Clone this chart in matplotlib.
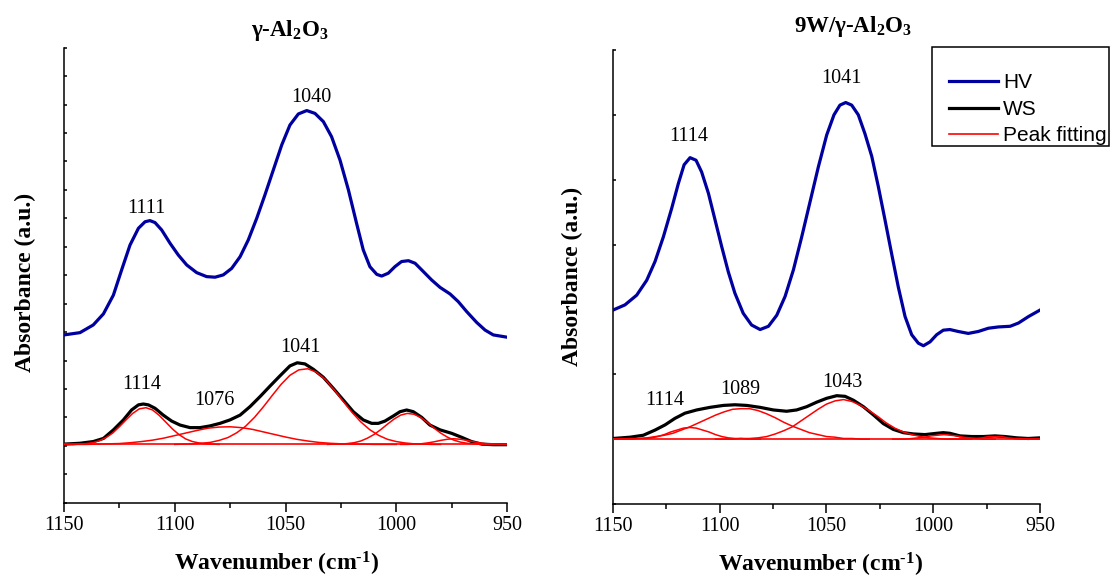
import matplotlib
matplotlib.use("Agg")
import matplotlib.pyplot as plt
from matplotlib.lines import Line2D
from matplotlib.patches import Rectangle

plt.rcParams["font.family"] = "Liberation Serif"
plt.rcParams["mathtext.fontset"] = "custom"
plt.rcParams["mathtext.rm"] = "Liberation Serif:bold"
plt.rcParams["mathtext.it"] = "Liberation Serif:italic:bold"
plt.rcParams["mathtext.bf"] = "Liberation Serif:bold"

# ---------------- gamma-Al2O3 spectra ----------------
left_hv_wn = [1150, 1142.8, 1136.8, 1132.2, 1127.7, 1124.0, 1120.2, 1116.4, 1113.4, 1111.2, 1108.9, 1105.9,
              1102.1, 1098.4, 1094.6, 1090.1, 1085.6, 1081.8, 1078.1, 1074.3, 1070.5, 1066.8, 1063.0, 1059.3,
              1055.5, 1051.7, 1048.0, 1044.2, 1040.4, 1036.7, 1032.9, 1029.2, 1025.4, 1021.6, 1017.9, 1014.9,
              1011.9, 1008.8, 1006.6, 1003.6, 1000.6, 997.6, 994.5, 991.5, 987.8, 984.0, 980.2, 975.7, 972.0,
              968.2, 963.7, 959.9, 956.2, 950]
left_hv = [5.90, 5.98, 6.25, 6.64, 7.30, 8.18, 9.06, 9.65, 9.88, 9.92, 9.85, 9.59, 9.12, 8.71, 8.36, 8.09,
           7.95, 7.93, 8.01, 8.24, 8.65, 9.24, 10.00, 10.82, 11.70, 12.58, 13.28, 13.67, 13.79, 13.69, 13.40,
           12.87, 12.05, 11.00, 9.82, 8.89, 8.30, 8.03, 7.97, 8.07, 8.30, 8.48, 8.51, 8.42, 8.13, 7.83, 7.57,
           7.34, 7.07, 6.72, 6.34, 6.07, 5.90, 5.82]

left_ws_wn = [1150, 1142.8, 1136.8, 1132.2, 1127.7, 1123.2, 1119.5, 1116.4, 1114.2, 1111.9, 1108.9, 1105.2,
              1101.4, 1097.6, 1093.1, 1088.6, 1084.1, 1079.6, 1075.1, 1070.5, 1066.0, 1061.5, 1057.0, 1052.5,
              1048.0, 1044.7, 1041.2, 1037.4, 1032.9, 1028.4, 1023.9, 1019.4, 1014.9, 1011.1, 1008.1, 1005.1,
              1001.3, 998.3, 995.3, 992.3, 988.5, 984.8, 980.2, 975.0, 970.5, 966.0, 961.4, 956.2, 950]
left_ws = [2.06, 2.09, 2.15, 2.26, 2.56, 2.91, 3.26, 3.44, 3.47, 3.44, 3.32, 3.08, 2.87, 2.73, 2.64, 2.64,
           2.70, 2.79, 2.91, 3.08, 3.38, 3.73, 4.10, 4.46, 4.81, 4.92, 4.88, 4.69, 4.41, 4.02, 3.61, 3.20,
           2.91, 2.79, 2.79, 2.87, 3.05, 3.20, 3.26, 3.20, 3.00, 2.73, 2.56, 2.44, 2.30, 2.15, 2.06, 2.04, 2.04]

left_base = 2.05
left_fit_wn = [
    [1146, 1143, 1140, 1137, 1134, 1131, 1128, 1125, 1122, 1119, 1116, 1113, 1110, 1107, 1104, 1101, 1098,
     1095, 1092, 1089, 1086, 1083, 1080],
    [1150, 1145, 1140, 1135, 1130, 1125, 1120, 1115, 1110, 1105, 1100, 1095, 1090, 1085, 1080, 1075, 1070,
     1065, 1060, 1055, 1050, 1045, 1040, 1035, 1030, 1025, 1020, 1015, 1010, 1005, 1000],
    [1100, 1096, 1092, 1088, 1084, 1080, 1076, 1072, 1068, 1064, 1060, 1056, 1052, 1048, 1044, 1040, 1036,
     1032, 1028, 1024, 1020, 1016, 1012, 1008, 1004, 1000, 996, 992, 988, 984, 980],
    [1031, 1028, 1025, 1022, 1019, 1016, 1013, 1010, 1007, 1004, 1001, 998, 995, 992, 989, 986, 983, 980,
     977, 974, 971, 968, 965, 962, 959, 956],
    [998, 995, 992, 989, 986, 983, 980, 977, 974, 971, 968, 965, 962, 959, 956, 953, 950],
]
left_fit = [
    [2.05, 2.06, 2.08, 2.11, 2.18, 2.29, 2.45, 2.67, 2.91, 3.14, 3.30, 3.34, 3.26, 3.07, 2.83, 2.59, 2.39,
     2.24, 2.15, 2.10, 2.07, 2.06, 2.05],
    [2.05, 2.05, 2.05, 2.06, 2.07, 2.08, 2.11, 2.15, 2.20, 2.27, 2.36, 2.45, 2.54, 2.62, 2.66, 2.67, 2.64,
     2.58, 2.49, 2.40, 2.31, 2.23, 2.17, 2.12, 2.09, 2.07, 2.06, 2.06, 2.05, 2.05, 2.05],
    [2.05, 2.06, 2.07, 2.09, 2.12, 2.19, 2.29, 2.46, 2.69, 3.00, 3.37, 3.77, 4.16, 4.48, 4.67, 4.71, 4.59,
     4.33, 3.97, 3.57, 3.18, 2.84, 2.57, 2.37, 2.23, 2.15, 2.10, 2.07, 2.06, 2.05, 2.05],
    [2.05, 2.06, 2.06, 2.08, 2.11, 2.17, 2.27, 2.40, 2.57, 2.76, 2.94, 3.08, 3.14, 3.11, 3.00, 2.83, 2.63,
     2.45, 2.31, 2.20, 2.13, 2.09, 2.07, 2.06, 2.05, 2.05],
    [2.05, 2.05, 2.06, 2.07, 2.10, 2.14, 2.19, 2.23, 2.25, 2.23, 2.19, 2.14, 2.10, 2.07, 2.06, 2.05, 2.05],
]

# ---------------- 9W/gamma-Al2O3 spectra ----------------
right_hv_wn = [1150, 1144.4, 1138.9, 1134.2, 1130.3, 1126.4, 1122.5, 1119.4, 1116.7, 1113.9, 1111.1, 1108.5,
               1105.3, 1102.2, 1099.1, 1096.0, 1092.9, 1089.0, 1085.1, 1081.1, 1077.2, 1073.3, 1069.4, 1065.5,
               1061.6, 1057.7, 1053.8, 1049.9, 1046.5, 1043.7, 1041.0, 1038.2, 1035.1, 1032.0, 1028.8, 1025.7,
               1022.6, 1019.5, 1016.4, 1013.2, 1010.1, 1007.0, 1004.6, 1001.5, 998.4, 995.3, 992.2, 988.3,
               983.6, 978.9, 974.2, 969.5, 964.0, 960.1, 955.4, 950]
right_hv = [2.99, 3.07, 3.22, 3.45, 3.74, 4.12, 4.56, 4.94, 5.23, 5.34, 5.30, 5.12, 4.79, 4.38, 3.97, 3.58,
            3.25, 2.94, 2.76, 2.69, 2.74, 2.91, 3.20, 3.61, 4.12, 4.66, 5.20, 5.69, 6.00, 6.15, 6.19, 6.15,
            6.00, 5.71, 5.36, 4.89, 4.38, 3.86, 3.35, 2.89, 2.61, 2.48, 2.44, 2.50, 2.61, 2.68, 2.69, 2.66,
            2.63, 2.66, 2.71, 2.73, 2.74, 2.79, 2.89, 2.99]

right_ws_wn = [1150, 1142.0, 1135.8, 1130.3, 1125.6, 1121.0, 1116.3, 1110.8, 1104.6, 1098.3, 1092.9, 1087.4,
               1081.1, 1074.9, 1068.7, 1064.0, 1059.3, 1054.6, 1049.9, 1045.2, 1041.3, 1037.4, 1032.7, 1027.9,
               1023.4, 1018.7, 1014.0, 1009.3, 1003.9, 998.4, 995.3, 992.2, 987.5, 982.0, 976.5, 971.1, 966.4,
               960.9, 955.5, 950]
right_ws = [1.01, 1.03, 1.06, 1.14, 1.22, 1.32, 1.40, 1.45, 1.49, 1.52, 1.53, 1.52, 1.49, 1.45, 1.43, 1.45,
            1.50, 1.57, 1.63, 1.67, 1.66, 1.60, 1.50, 1.37, 1.24, 1.15, 1.10, 1.08, 1.07, 1.09, 1.10, 1.09,
            1.05, 1.04, 1.04, 1.05, 1.04, 1.02, 1.01, 1.02]

right_base = 1.00
right_fit_wn = [
    [1147, 1144, 1141, 1138, 1135, 1132, 1129, 1126, 1123, 1120, 1117, 1114, 1111, 1108, 1105, 1102, 1099,
     1096, 1093, 1090, 1087, 1084, 1081],
    [1150, 1146, 1142, 1138, 1134, 1130, 1126, 1122, 1118, 1114, 1110, 1106, 1102, 1098, 1094, 1090, 1086,
     1082, 1078, 1074, 1070, 1066, 1062, 1058, 1054, 1050, 1046, 1042, 1038, 1034, 1030],
    [1102, 1098, 1094, 1090, 1086, 1082, 1078, 1074, 1070, 1066, 1062, 1058, 1054, 1050, 1046, 1042, 1038,
     1034, 1030, 1026, 1022, 1018, 1014, 1010, 1006, 1002, 998, 994, 990, 986, 982],
    [1019, 1016, 1013, 1010, 1007, 1004, 1001, 998, 995, 992, 989, 986, 983, 980, 977, 974, 971],
    [992, 989, 986, 983, 980, 977, 974, 971, 968, 965, 962, 959, 956, 953, 950],
]
right_fit = [
    [1.00, 1.00, 1.00, 1.01, 1.01, 1.02, 1.04, 1.07, 1.11, 1.14, 1.17, 1.18, 1.17, 1.14, 1.11, 1.07, 1.04,
     1.02, 1.01, 1.01, 1.00, 1.00, 1.00],
    [1.00, 1.00, 1.01, 1.01, 1.02, 1.04, 1.06, 1.09, 1.14, 1.19, 1.25, 1.31, 1.37, 1.42, 1.46, 1.47, 1.47,
     1.44, 1.39, 1.33, 1.26, 1.20, 1.15, 1.10, 1.07, 1.04, 1.03, 1.01, 1.01, 1.00, 1.00],
    [1.00, 1.00, 1.00, 1.01, 1.01, 1.02, 1.04, 1.08, 1.13, 1.19, 1.28, 1.37, 1.46, 1.54, 1.59, 1.61, 1.58,
     1.52, 1.44, 1.35, 1.25, 1.17, 1.11, 1.07, 1.04, 1.02, 1.01, 1.00, 1.00, 1.00, 1.00],
    [1.00, 1.00, 1.00, 1.01, 1.02, 1.03, 1.05, 1.06, 1.07, 1.06, 1.05, 1.03, 1.02, 1.01, 1.00, 1.00, 1.00],
    [1.00, 1.00, 1.00, 1.01, 1.01, 1.02, 1.04, 1.04, 1.04, 1.02, 1.01, 1.01, 1.00, 1.00, 1.00],
]

# peak labels: (text, wavenumber, absorbance of the label baseline)
left_peaks = [("1111", 1112.7, 10.19), ("1040", 1038.2, 14.09), ("1114", 1114.7, 4.01),
              ("1076", 1082.1, 3.42), ("1041", 1043.1, 5.30)]
right_peaks = [("1114", 1114.7, 5.60), ("1041", 1043.0, 6.49), ("1114", 1125.6, 1.52),
               ("1089", 1090.2, 1.70), ("1043", 1042.4, 1.80)]

xticks = [1150, 1100, 1050, 1000, 950]
xminor = [1125, 1075, 1025, 975]
titles = ["γ-Al$_2$O$_3$", "9W/γ-Al$_2$O$_3$"]
xlabel = r"Wavenumber (cm$^{\text{-}1}$)"
ylabel = "Absorbance (a.u.)"
series_names = ["HV", "WS", "Peak fitting"]

BLUE = "#0000a0"
RED = "#ff0000"
W, H = 1110, 580
fig = plt.figure(figsize=(W / 100, H / 100), dpi=100)
axL = fig.add_axes([64 / W, 1 - 502.7 / H, 443 / W, 455 / H])
axR = fig.add_axes([613 / W, 1 - 504 / H, 427 / W, 454 / H])

panels = [
    (axL, left_hv_wn, left_hv, left_ws_wn, left_ws, left_fit_wn, left_fit, left_base, 16, left_peaks),
    (axR, right_hv_wn, right_hv, right_ws_wn, right_ws, right_fit_wn, right_fit, right_base, 7, right_peaks),
]
for ax, hvw, hv, wsw, ws, fw, fv, base, top, peaks in panels:
    ax.plot(hvw, hv, color=BLUE, lw=2.3, zorder=3, solid_joinstyle="round")
    ax.plot(wsw, ws, color="black", lw=2.3, zorder=3, solid_joinstyle="round")
    ax.plot([1150, 950], [base, base], color=RED, lw=1.2, zorder=4)
    for w, v in zip(fw, fv):
        ax.plot(w, v, color=RED, lw=1.1, zorder=4)
    for t, x, y in peaks:
        ax.text(x, y, t, ha="center", va="baseline", fontsize=14.5)
    ax.set_xlim(1150, 950)
    ax.set_ylim(0, top)
    ax.spines[["top", "right"]].set_visible(False)
    for s in ("left", "bottom"):
        ax.spines[s].set_linewidth(1.1)
    ax.set_xticks(xticks)
    ax.set_xticks(xminor, minor=True)
    ax.set_yticks(range(0, top + 1))
    ax.set_yticklabels([])
    ax.tick_params(axis="x", which="major", direction="out", length=6.5, width=1.1,
                   labelsize=14.5, pad=3)
    ax.tick_params(axis="x", which="minor", direction="out", length=3.5, width=1.1)
    ax.tick_params(axis="y", direction="in", length=2, width=1.1)

fig.text(289.5 / W, 1 - 36 / H, titles[0], ha="center", va="baseline", fontsize=16.5, fontweight="bold")
fig.text(852.5 / W, 1 - 32 / H, titles[1], ha="center", va="baseline", fontsize=16.5, fontweight="bold")
fig.text(277 / W, 1 - 571 / H, xlabel, ha="center", va="baseline", fontsize=17, fontweight="bold")
fig.text(821 / W, 1 - 572 / H, xlabel, ha="center", va="baseline", fontsize=17, fontweight="bold")
fig.text(25 / W, 1 - 282 / H, ylabel, ha="center", va="center", rotation=90, fontsize=17, fontweight="bold")
fig.text(572 / W, 1 - 276 / H, ylabel, ha="center", va="center", rotation=90, fontsize=17, fontweight="bold")

handles = [Line2D([], [], color=BLUE, lw=2.3), Line2D([], [], color="black", lw=2.3),
           Line2D([], [], color=RED, lw=1.2)]
fig.legend(handles, series_names, loc="upper left",
           bbox_to_anchor=(949 / W, 1 - 73.5 / H), borderaxespad=0, borderpad=0,
           frameon=False, handlelength=2.36, handletextpad=0.24, labelspacing=0.36,
           prop={"family": "Liberation Sans", "size": 15})
fig.patches.append(Rectangle((931.7 / W, 1 - 146 / H), (1109 - 931.7) / W, (146 - 47.3) / H,
                             transform=fig.transFigure, fill=False, ec="black", lw=1.1))

fig.savefig("out.png", dpi=100)
